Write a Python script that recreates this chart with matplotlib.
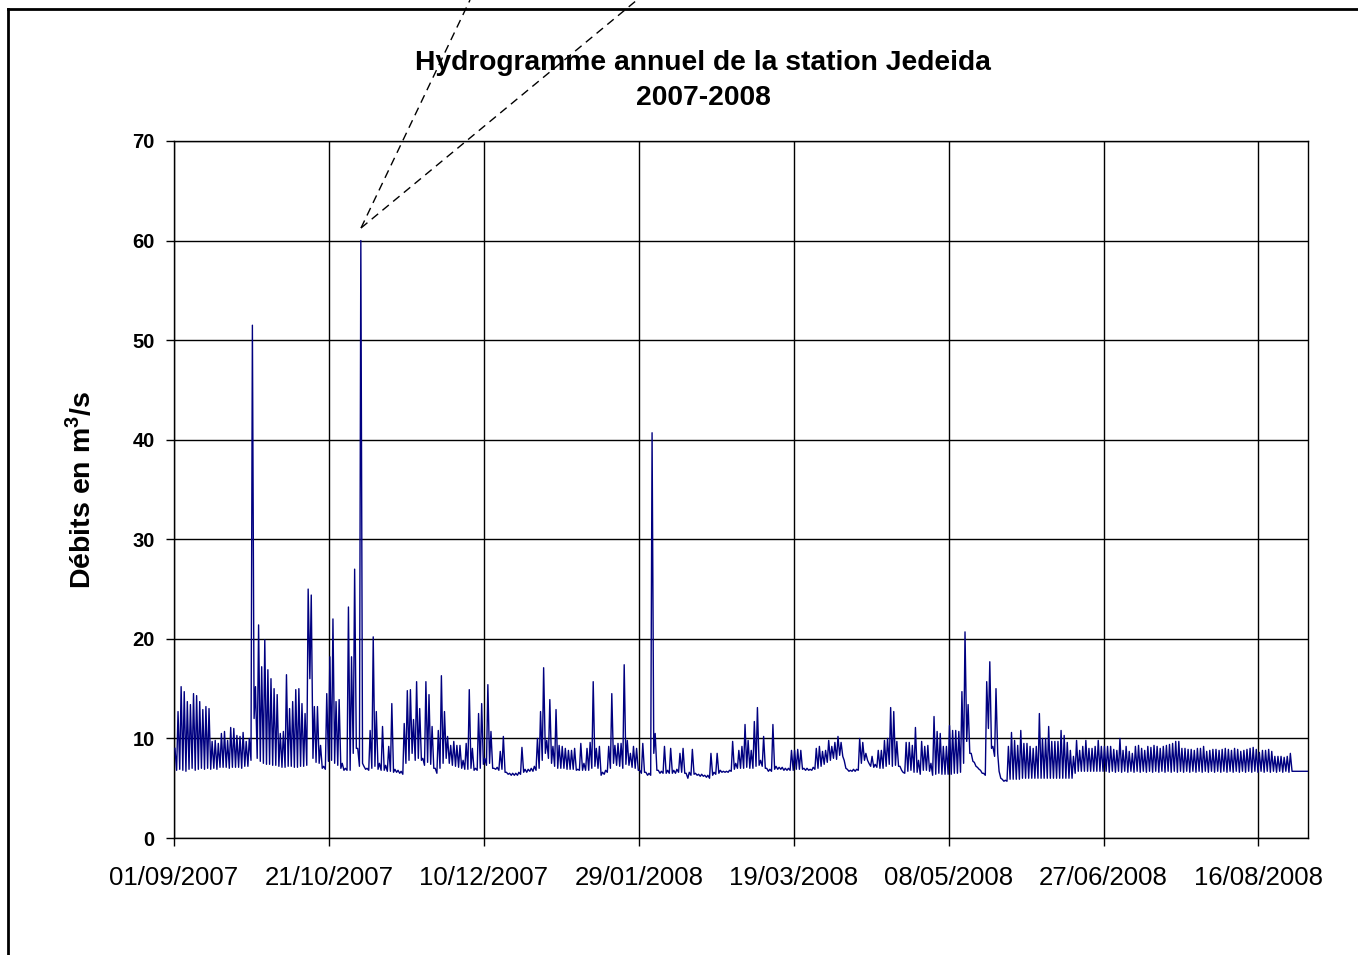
import matplotlib
matplotlib.use("Agg")
import matplotlib.pyplot as plt
from matplotlib.lines import Line2D
from datetime import datetime, timedelta

plt.rcParams['font.family'] = ['Liberation Sans', 'DejaVu Sans']

# ---------------- data ----------------
title_lines = ["Hydrogramme annuel de la station Jedeida", "2007-2008"]
y_label = "Débits en m$^{\\mathbf{3}}$/s"
x_tick_labels = ["01/09/2007", "21/10/2007", "10/12/2007", "29/01/2008",
                 "19/03/2008", "08/05/2008", "27/06/2008", "16/08/2008"]
y_ticks = [0, 10, 20, 30, 40, 50, 60, 70]
start_date = "01/09/2007"
end_date = "01/09/2008"

# daily peak discharge (m3/s), one value per day from 01/09/2007
daily_peak = [
    9.0, 12.7, 15.2, 14.7, 13.7, 13.4, 14.5, 14.3, 13.7, 12.9,
    13.2, 13.0, 9.7, 9.8, 9.5, 10.5, 10.7, 9.8, 11.1, 11.0,
    10.3, 10.2, 10.6, 9.7, 10.0, 51.5, 15.2, 21.4, 17.2, 19.9,
    16.9, 16.0, 15.0, 14.4, 10.5, 10.7, 16.4, 13.0, 13.7, 14.9,
    15.0, 13.5, 12.5, 25.0, 24.4, 13.2, 13.2, 9.3, 7.2, 14.5,
    18.2, 22.0, 13.7, 13.9, 7.5, 7.0, 23.2, 18.2, 27.0, 9.0,
    60.0, 7.2, 7.0, 10.8, 20.2, 12.7, 7.5, 11.2, 7.3, 9.2,
    13.5, 6.9, 6.8, 6.7, 11.5, 14.8, 14.9, 11.9, 15.7, 13.0,
    8.0, 15.7, 14.4, 11.2, 7.0, 10.8, 16.3, 12.7, 10.2, 9.3,
    9.7, 9.3, 9.3, 7.8, 9.5, 14.9, 9.0, 7.0, 12.5, 13.5,
    8.0, 15.4, 10.7, 7.0, 7.1, 8.7, 10.2, 6.6, 6.5, 6.5,
    6.5, 6.6, 9.1, 6.9, 6.9, 7.0, 7.2, 10.0, 12.7, 17.1,
    9.8, 13.9, 9.2, 12.9, 9.3, 9.2, 9.0, 8.8, 8.8, 9.0,
    6.9, 9.5, 7.5, 9.0, 9.6, 15.7, 9.0, 9.2, 6.6, 6.8,
    9.2, 14.5, 9.3, 9.5, 9.5, 17.4, 9.8, 8.5, 9.2, 9.0,
    6.8, 9.5, 6.6, 6.5, 40.7, 10.5, 6.8, 6.7, 9.2, 6.8,
    9.0, 6.8, 6.9, 8.5, 9.0, 6.5, 6.6, 8.9, 6.5, 6.4,
    6.4, 6.3, 6.3, 8.5, 6.6, 8.5, 6.8, 6.7, 6.7, 6.8,
    9.7, 7.5, 8.8, 9.2, 11.4, 9.8, 8.8, 11.7, 13.1, 7.8,
    10.2, 7.0, 6.9, 11.4, 7.2, 7.1, 7.1, 7.0, 7.0, 8.8,
    8.8, 8.9, 8.8, 7.0, 7.0, 6.9, 7.1, 9.0, 9.2, 8.7,
    8.8, 9.8, 9.2, 9.6, 10.2, 9.6, 7.8, 6.9, 6.8, 6.9,
    6.9, 10.0, 9.6, 8.5, 7.5, 8.2, 7.4, 8.8, 8.8, 9.8,
    10.0, 13.1, 12.7, 9.7, 7.2, 6.6, 9.6, 9.6, 9.3, 11.1,
    7.8, 9.7, 9.2, 9.3, 7.5, 12.2, 10.7, 10.5, 9.2, 9.2,
    11.3, 10.8, 10.8, 10.7, 14.7, 20.7, 13.4, 8.5, 7.6, 7.1,
    6.8, 6.5, 15.7, 17.7, 9.2, 15.0, 6.7, 5.9, 5.8, 9.2,
    10.6, 9.8, 9.3, 10.8, 9.5, 9.5, 9.2, 9.0, 9.2, 12.5,
    10.0, 10.0, 11.2, 9.7, 9.7, 9.7, 10.8, 10.3, 9.6, 8.8,
    8.2, 9.8, 8.8, 9.2, 9.8, 9.0, 9.0, 9.2, 9.8, 9.2,
    9.2, 9.2, 9.2, 8.9, 8.8, 10.0, 8.8, 9.2, 8.7, 8.5,
    9.2, 9.3, 9.0, 8.8, 9.2, 9.1, 9.3, 9.2, 9.0, 9.2,
    9.3, 9.4, 9.5, 9.7, 9.7, 9.0, 9.0, 8.9, 8.9, 8.8,
    9.0, 9.0, 9.2, 8.7, 8.8, 8.9, 8.9, 8.8, 8.9, 9.0,
    8.9, 8.8, 9.0, 8.9, 8.7, 8.8, 8.9, 9.0, 9.1, 8.9,
    8.6, 8.8, 8.8, 8.9, 8.7, 8.2, 8.2, 8.2, 8.1, 8.2,
    8.5, 6.7, 6.7, 6.7, 6.7, 6.7,
]

# daily low discharge (m3/s)
daily_low = [
    6.8, 6.9, 6.8, 6.7, 6.9, 7.0, 6.8, 6.9, 7.0, 6.9,
    7.0, 6.9, 7.0, 6.9, 7.1, 7.1, 7.1, 7.0, 7.1, 7.1,
    7.1, 7.0, 7.2, 7.2, 7.8, 12.0, 8.0, 7.7, 7.5, 7.4,
    7.4, 7.3, 7.3, 7.2, 7.1, 7.1, 7.2, 7.2, 7.1, 7.1,
    7.2, 7.2, 7.3, 16.0, 8.0, 7.6, 7.5, 7.0, 6.9, 7.7,
    7.8, 7.5, 7.3, 7.0, 6.8, 6.8, 6.8, 8.5, 9.0, 7.2,
    7.5, 6.9, 6.8, 7.0, 7.2, 6.9, 6.8, 6.8, 6.7, 6.7,
    6.6, 6.6, 6.5, 6.4, 7.5, 7.8, 8.5, 7.8, 8.0, 7.8,
    7.3, 7.6, 7.4, 7.0, 6.5, 7.0, 7.5, 8.0, 7.5, 7.3,
    7.2, 7.1, 7.0, 6.9, 6.9, 7.0, 6.8, 6.8, 7.0, 7.4,
    7.3, 7.5, 7.0, 6.9, 6.8, 6.9, 6.6, 6.4, 6.3, 6.3,
    6.3, 6.4, 6.6, 6.6, 6.7, 6.7, 6.8, 7.0, 7.8, 8.5,
    8.0, 7.5, 7.2, 7.0, 7.0, 7.0, 6.9, 6.9, 6.9, 6.8,
    6.8, 6.8, 6.8, 6.8, 7.0, 7.2, 7.0, 6.3, 6.4, 6.6,
    7.0, 7.5, 7.3, 7.2, 7.0, 7.4, 7.3, 7.1, 7.0, 6.8,
    6.5, 6.6, 6.3, 6.3, 8.5, 6.8, 6.5, 6.5, 6.5, 6.5,
    6.5, 6.5, 6.6, 6.6, 6.5, 6.0, 6.3, 6.4, 6.3, 6.2,
    6.2, 6.1, 6.0, 6.3, 6.4, 6.5, 6.6, 6.6, 6.6, 6.7,
    6.9, 7.0, 7.0, 7.0, 7.1, 7.0, 7.0, 7.2, 7.3, 7.2,
    7.0, 6.7, 6.7, 6.9, 6.9, 6.9, 6.8, 6.8, 6.8, 6.8,
    6.9, 6.9, 6.9, 6.8, 6.8, 6.8, 6.9, 7.0, 7.2, 7.4,
    7.6, 7.8, 8.0, 7.9, 8.3, 8.2, 7.0, 6.7, 6.7, 6.7,
    6.8, 7.5, 7.8, 7.8, 7.2, 7.1, 7.1, 7.0, 7.0, 7.2,
    7.4, 7.2, 7.3, 7.2, 6.8, 6.5, 6.7, 6.8, 6.6, 6.6,
    6.4, 6.8, 6.8, 6.7, 6.3, 6.4, 6.5, 6.4, 6.4, 6.4,
    6.4, 6.5, 6.5, 6.6, 7.5, 9.7, 8.5, 7.7, 7.2, 6.9,
    6.5, 6.3, 11.0, 9.0, 8.2, 8.5, 6.0, 5.7, 5.7, 5.9,
    5.9, 5.9, 5.9, 6.0, 6.0, 6.0, 6.0, 6.0, 6.0, 6.0,
    6.0, 6.0, 6.0, 6.0, 6.0, 6.0, 6.0, 6.0, 6.0, 6.0,
    6.5, 6.7, 6.7, 6.7, 6.7, 6.7, 6.7, 6.7, 6.7, 6.7,
    6.7, 6.6, 6.7, 6.6, 6.7, 6.6, 6.7, 6.6, 6.7, 6.6,
    6.7, 6.6, 6.7, 6.6, 6.7, 6.6, 6.7, 6.6, 6.7, 6.6,
    6.7, 6.6, 6.7, 6.6, 6.7, 6.6, 6.7, 6.6, 6.7, 6.6,
    6.7, 6.6, 6.7, 6.6, 6.7, 6.6, 6.7, 6.6, 6.7, 6.6,
    6.7, 6.6, 6.7, 6.6, 6.7, 6.6, 6.7, 6.6, 6.7, 6.6,
    6.7, 6.6, 6.7, 6.6, 6.7, 6.6, 6.7, 6.6, 6.7, 6.6,
    6.7, 6.7, 6.7, 6.7, 6.7, 6.7,
]

# ---------------- build series ----------------
t0 = datetime.strptime(start_date, "%d/%m/%Y")
t1 = datetime.strptime(end_date, "%d/%m/%Y")
times, flows = [], []
for d, (hi, lo) in enumerate(zip(daily_peak, daily_low)):
    times.append(t0 + timedelta(days=d + 0.3))
    flows.append(hi)
    times.append(t0 + timedelta(days=d + 0.85))
    flows.append(lo)

# ---------------- figure ----------------
plt.rcParams['mathtext.fontset'] = 'custom'
plt.rcParams['mathtext.rm'] = 'Liberation Sans'
plt.rcParams['mathtext.bf'] = 'Liberation Sans:bold'

W, H = 1358, 955
fig = plt.figure(figsize=(W / 100, H / 100), dpi=100)
ax = fig.add_axes([174 / W, 1 - 838 / H, (1308 - 174) / W, (838 - 141) / H])

ax.plot(times, flows, color="#000080", lw=1.0, zorder=3)

ax.set_xlim(t0, t1)
ax.set_ylim(0, 70)
xt = [datetime.strptime(s, "%d/%m/%Y") for s in x_tick_labels]
ax.set_xticks(xt)
ax.set_xticklabels(x_tick_labels, fontsize=18.5)
ax.set_yticks(y_ticks)
ax.set_yticklabels([str(v) for v in y_ticks], fontsize=14.5, fontweight="bold")
ax.tick_params(axis="both", direction="out", length=6, width=1, color="black")
ax.tick_params(axis="x", pad=14)
ax.tick_params(axis="y", pad=8)
ax.grid(True, color="black", lw=1.0)
ax.set_axisbelow(True)
for s in ax.spines.values():
    s.set_color("black")
    s.set_linewidth(1.0)

ax.set_ylabel(y_label, fontsize=20.5, fontweight="bold", labelpad=26)

fig.text(703 / W, 1 - 63 / H, title_lines[0], ha="center", va="center",
         fontsize=20.3, fontweight="bold")
fig.text(703 / W, 1 - 98 / H, title_lines[1], ha="center", va="center",
         fontsize=20.3, fontweight="bold")

# outer frame (top and left edges visible)
fig.add_artist(Line2D([8 / W, 1.0], [1 - 9 / H, 1 - 9 / H],
                      transform=fig.transFigure, color="black", lw=2))
fig.add_artist(Line2D([8 / W, 8 / W], [1 - 9 / H, 0.0],
                      transform=fig.transFigure, color="black", lw=2))

# dashed callout leader lines pointing to the peak
fig.add_artist(Line2D([361 / W, 470 / W], [1 - 228 / H, 1.0],
                      transform=fig.transFigure, color="black", lw=1,
                      ls=(0, (6, 4))))
fig.add_artist(Line2D([361 / W, 637 / W], [1 - 228 / H, 1.0],
                      transform=fig.transFigure, color="black", lw=1,
                      ls=(0, (6, 4))))

fig.savefig("out.png", dpi=100)
